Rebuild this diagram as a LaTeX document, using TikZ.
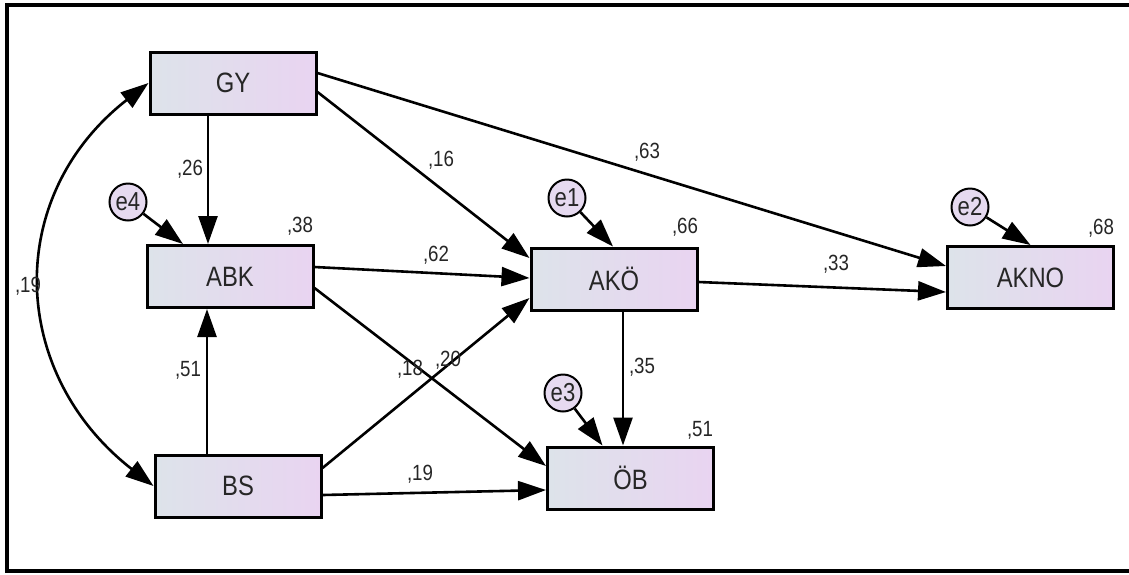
\documentclass[tikz,border=0pt]{standalone}
\usepackage{fontspec}
\setmainfont{Liberation Sans}
\usetikzlibrary{arrows.meta}

\definecolor{boxl}{HTML}{DDE3EA}
\definecolor{boxr}{HTML}{E9D4F1}
\definecolor{errfill}{HTML}{E6DAF0}

\newfontfamily\narrowsans[FakeStretch=0.85]{Liberation Sans}

\begin{document}
\begin{tikzpicture}[x=1pt, y=-1pt,
  var/.style={draw, line width=3pt, left color=boxl, right color=boxr, minimum width=166pt, minimum height=62pt, inner sep=0pt, font=\narrowsans\fontsize{28}{28}\selectfont, text=black!85},
  err/.style={draw, circle, line width=2pt, fill=errfill, minimum size=37pt, inner sep=0pt, font=\narrowsans\fontsize{26}{26}\selectfont, text=black!85},
  coef/.style={inner sep=0pt, font=\narrowsans\fontsize{22}{22}\selectfont, text=black!85},
  arr/.style={-{Triangle[length=28pt, width=19pt]}, line width=2.6pt},
  darr/.style={{Triangle[length=28pt, width=19pt]}-{Triangle[length=28pt, width=19pt]}, line width=2.6pt},
]
\useasboundingbox (0,0) rectangle (1129,574);
\draw[line width=3.2pt] (1132,5) -- (7,5) -- (7,571) -- (1132,571);

% observed variables
\node[var] (gy)   at (233,83)    {GY};
\node[var] (abk)  at (230,276.5) {ABK};
\node[var] (ako)  at (614,279)   {AKÖ};
\node[var] (akno) at (1030.5,277.5) {AKNO};
\node[var] (bs)   at (238,486)   {BS};
\node[var] (ob)   at (630.5,478) {ÖB};

% error terms
\node[err] (e4) at (128,202) {e4};
\node[err] (e1) at (567,198) {e1};
\node[err] (e2) at (970,207) {e2};
\node[err] (e3) at (563,393) {e3};

% paths
\draw[arr] ([xshift=-25pt]gy.south) -- ([xshift=-25pt]gy.south |- abk.north);
\draw[arr] ([xshift=-31pt]bs.north) -- ([xshift=-31pt]bs.north |- abk.south);
\draw[arr] ([yshift=-9pt]gy.east) -- ([yshift=21pt]ako.west);
\draw[arr] ([yshift=10pt]gy.east) -- ([yshift=11.5pt]akno.west);
\draw[arr] ([yshift=9.5pt]abk.east) -- ([yshift=1pt]ako.west);
\draw[arr] ([yshift=-11.5pt]abk.east) -- ([yshift=12pt]ob.west);
\draw[arr] ([yshift=18pt]bs.east) -- ([yshift=-19pt]ako.west);
\draw[arr] ([yshift=-9pt]bs.east) -- ([yshift=-12pt]ob.west);
\draw[arr] ([yshift=-3pt]ako.east) -- ([yshift=-14.5pt]akno.west);
\draw[arr] ([xshift=9pt]ako.south) -- ([xshift=9pt]ako.south |- ob.north);
\draw[darr] (gy.west) .. controls +(-145,113) and +(-145,-113) .. (bs.west);

\draw[arr] (e4) -- ([xshift=-47pt]abk.north);
\draw[arr] (e1) -- ([xshift=-1pt]ako.north);
\draw[arr] (e2) -- (akno.north);
\draw[arr] (e3) -- ([xshift=-28pt]ob.north);

% estimates
\node[coef] (c-gy-abk)   at (190,169) {,26};
\node[coef] (c-bs-abk)   at (188,370) {,51};
\node[coef] (c-gy-ako)   at (441,160) {,16};
\node[coef] (c-gy-akno)  at (647,152) {,63};
\node[coef] (c-abk-ako)  at (436,255) {,62};
\node[coef] (c-abk-ob)   at (410,369) {,18};
\node[coef] (c-bs-ako)   at (448,360) {,20};
\node[coef] (c-bs-ob)    at (420,474) {,19};
\node[coef] (c-ako-akno) at (836,264) {,33};
\node[coef] (c-ako-ob)   at (642,367) {,35};
\node[coef] (c-gy-bs)    at (28,286)  {,19};

% squared multiple correlations
\node[coef] (r-abk)  at (300,226) {,38};
\node[coef] (r-ako)  at (685,227) {,66};
\node[coef] (r-akno) at (1101,228) {,68};
\node[coef] (r-ob)   at (700,430) {,51};
\end{tikzpicture}
\end{document}
